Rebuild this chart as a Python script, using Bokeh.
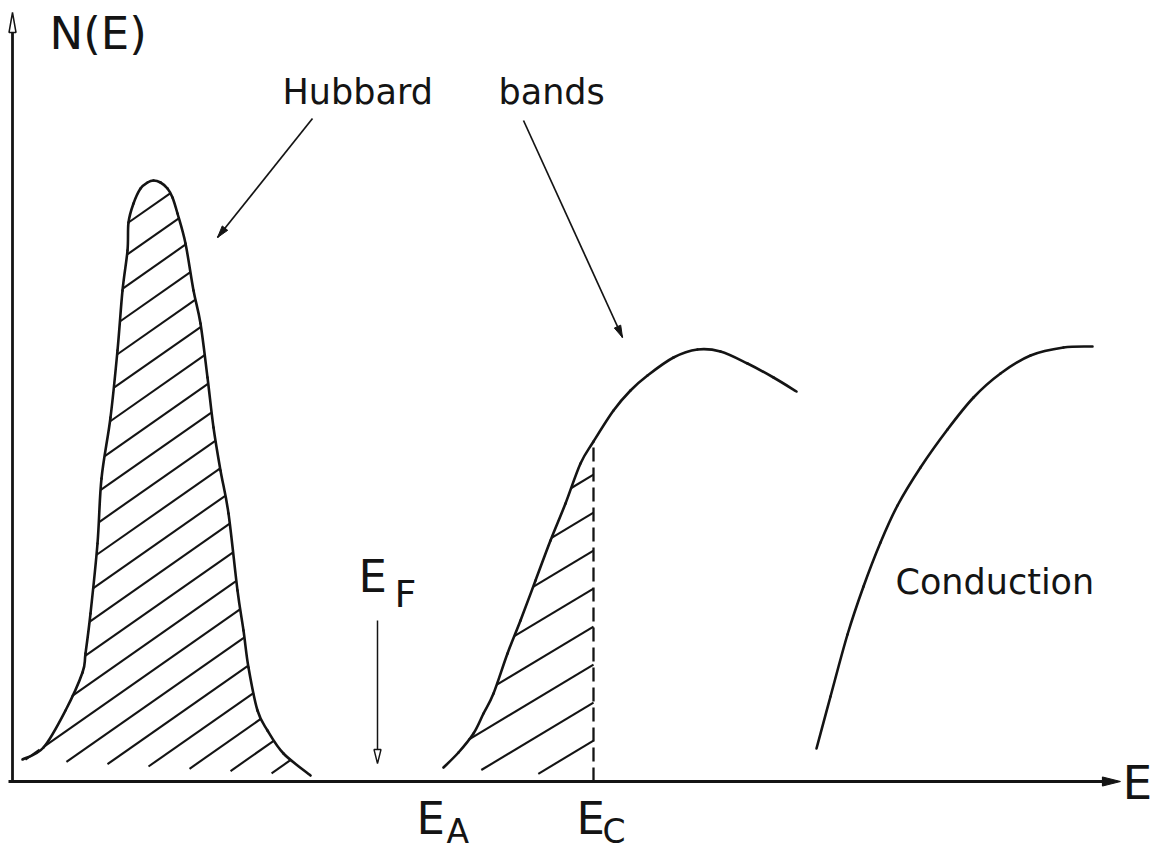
import numpy as np
from bokeh.plotting import figure
from bokeh.models import Range1d
from bokeh.core.properties import value
from bokeh.embed import file_html
from bokeh.resources import INLINE

# ---- density of states N(E), arbitrary units (energy E along x, N up) ----
lower_hubbard_E = [10, 31, 53, 70, 73, 78, 85, 89, 98, 105, 110, 115, 116, 121, 128, 135,
                   141, 148, 155, 160, 165, 173, 181, 188, 195, 201, 208, 216, 225, 231,
                   236, 245, 255, 271, 298]
lower_hubbard_N = [23, 35, 72, 110, 129, 169, 239, 304, 365, 432, 492, 532, 560, 579, 594, 600,
                   602, 600, 594, 585, 569, 539, 492, 459, 405, 355, 312, 269, 192, 152,
                   115, 72, 52, 29, 7]

upper_hubbard_E = [431, 446, 461, 471, 481, 495, 508, 523, 538, 553, 568, 581, 601, 618,
                   635, 661, 685, 708, 735, 761, 784]
upper_hubbard_N = [15, 30, 49, 69, 89, 129, 162, 202, 242, 279, 319, 341, 372, 392,
                   407, 425, 433, 431, 419, 405, 391]

conduction_E = [804, 818, 835, 851, 868, 885, 908, 935, 961, 988, 1018, 1051, 1080]
conduction_N = [34, 86, 148, 196, 240, 277, 315, 353, 385, 409, 427, 435, 436]

# energy levels marked on the axis
E_F = 365
E_A = 431
E_C = 581

E_MAX = 1096   # end of the energy axis
N_MAX = 770    # end of the N(E) axis

INK = "#141414"
FONT = value("DejaVu Sans")


def hatch_segments(px, py, slope, spacing, through):
    """Parallel lines N = slope*E + c clipped to the closed polygon (px, py)."""
    px = np.asarray(px, float)
    py = np.asarray(py, float)
    cs = py - slope * px
    c0 = through[1] - slope * through[0]
    k_lo = int(np.floor((cs.min() - c0) / spacing))
    k_hi = int(np.ceil((cs.max() - c0) / spacing))
    x0s, y0s, x1s, y1s = [], [], [], []
    n = len(px)
    for k in range(k_lo, k_hi + 1):
        c = c0 + k * spacing
        pts = []
        for i in range(n):
            xa, ya = px[i], py[i]
            xb, yb = px[(i + 1) % n], py[(i + 1) % n]
            fa = ya - slope * xa - c
            fb = yb - slope * xb - c
            if (fa > 0) != (fb > 0):
                t = fa / (fa - fb)
                pts.append(xa + t * (xb - xa))
        pts.sort()
        for j in range(0, len(pts) - 1, 2):
            xa, xb = pts[j], pts[j + 1]
            x0s.append(xa); y0s.append(slope * xa + c)
            x1s.append(xb); y1s.append(slope * xb + c)
    return x0s, y0s, x1s, y1s


def smooth_curve(fig, xs, ys, **kw):
    """Draw a smooth curve through the given points as cubic Bezier pieces."""
    P = np.column_stack([xs, ys]).astype(float)
    Q = np.vstack([P[:1], P, P[-1:]])
    x0, y0, x1, y1, cx0, cy0, cx1, cy1 = ([] for _ in range(8))
    for i in range(len(P) - 1):
        p0, p1, p2, p3 = Q[i], Q[i + 1], Q[i + 2], Q[i + 3]
        c1 = p1 + (p2 - p0) / 6.0
        c2 = p2 - (p3 - p1) / 6.0
        x0.append(p1[0]); y0.append(p1[1]); x1.append(p2[0]); y1.append(p2[1])
        cx0.append(c1[0]); cy0.append(c1[1]); cx1.append(c2[0]); cy1.append(c2[1])
    fig.bezier(x0=x0, y0=y0, x1=x1, y1=y1, cx0=cx0, cy0=cy0, cx1=cx1, cy1=cy1,
               line_cap="round", **kw)


def head(x0, y0, x1, y1, length, half_w):
    d = np.array([x1 - x0, y1 - y0], float)
    u = d / np.hypot(*d)
    nrm = np.array([-u[1], u[0]])
    tip = np.array([x1, y1], float)
    base = tip - u * length
    a = base + nrm * half_w
    b = base - nrm * half_w
    return [tip[0], a[0], b[0]], [tip[1], a[1], b[1]]


p = figure(width=1165, height=854, x_range=Range1d(-12, 1153), y_range=Range1d(-72, 782),
           x_axis_type=None, y_axis_type=None, output_backend="svg",
           toolbar_location=None, min_border=0)
p.grid.visible = False
p.outline_line_color = None
p.background_fill_color = "white"
p.border_fill_color = "white"

# ---- axes ----
p.line([-4, E_MAX], [1, 1], line_color=INK, line_width=2.8)
p.line([0, 0], [0, N_MAX - 4], line_color=INK, line_width=2.8)
hx, hy = head(-4, 1, E_MAX + 12, 1, 18, 4.5)
p.patch(hx, hy, fill_color=INK, line_color=INK, line_width=1.2)
hx, hy = head(0, 0, 0, N_MAX, 20, 3.5)
p.patch(hx, hy, fill_color="white", line_color=INK, line_width=1.5)

# ---- lower Hubbard band (fully occupied, hatched) ----
lx0, ly0, lx1, ly1 = hatch_segments(lower_hubbard_E, lower_hubbard_N, 0.7, 31, (116, 560))
p.segment(x0=lx0, y0=ly0, x1=lx1, y1=ly1, line_color=INK, line_width=2.1)
smooth_curve(p, lower_hubbard_E, lower_hubbard_N, line_color=INK, line_width=2.6)

# ---- upper Hubbard band, occupied up to E_C ----
i_c = upper_hubbard_E.index(E_C)
occ_E = upper_hubbard_E[:i_c + 1] + [E_C, E_A]
occ_N = upper_hubbard_N[:i_c + 1] + [5, upper_hubbard_N[0]]
ux0, uy0, ux1, uy1 = hatch_segments(occ_E, occ_N, 0.6, 38, (463, 47))
p.segment(x0=ux0, y0=uy0, x1=ux1, y1=uy1, line_color=INK, line_width=2.1)
smooth_curve(p, upper_hubbard_E, upper_hubbard_N, line_color=INK, line_width=2.6)
p.line([E_C, E_C], [1, upper_hubbard_N[i_c]], line_color=INK, line_width=2.3,
       line_dash="14 6")

# ---- conduction band ----
smooth_curve(p, conduction_E, conduction_N, line_color=INK, line_width=2.6)

# ---- Fermi level pointer ----
p.line([E_F, E_F], [162, 21], line_color=INK, line_width=1.5)
hx, hy = head(E_F, 162, E_F, 19, 14, 3.5)
p.patch(hx, hy, fill_color="white", line_color=INK, line_width=1.4)

# ---- annotation arrows ----
for (x0, y0, x1, y1) in [(300, 664, 205, 545), (511, 662, 610, 445)]:
    p.line([x0, x1], [y0, y1], line_color=INK, line_width=1.7)
    hx, hy = head(x0, y0, x1, y1, 12, 3.5)
    p.patch(hx, hy, fill_color=INK, line_color=INK, line_width=1.0)


# ---- labels (y is the letters' baseline) ----
def label(x, y, txt, size):
    p.text(x=[x], y=[y + 0.38 * size], text=[txt], text_font=FONT,
           text_font_size=value(f"{size}px"), text_color=INK,
           text_baseline="alphabetic", text_align="left")


label(37, 732, "N(E)", 45)
label(270, 677, "Hubbard", 35)
label(486, 677, "bands", 35)
label(883, 187, "Conduction", 35)
label(346, 189, "E", 45)
label(382, 174, "F", 38)
label(404, -53, "E", 45)
label(434, -62, "A", 33)
label(564, -53, "E", 45)
label(590, -62, "C", 33)
label(1110, -18, "E", 47)

open("out.html", "w").write(file_html(p, INLINE))
